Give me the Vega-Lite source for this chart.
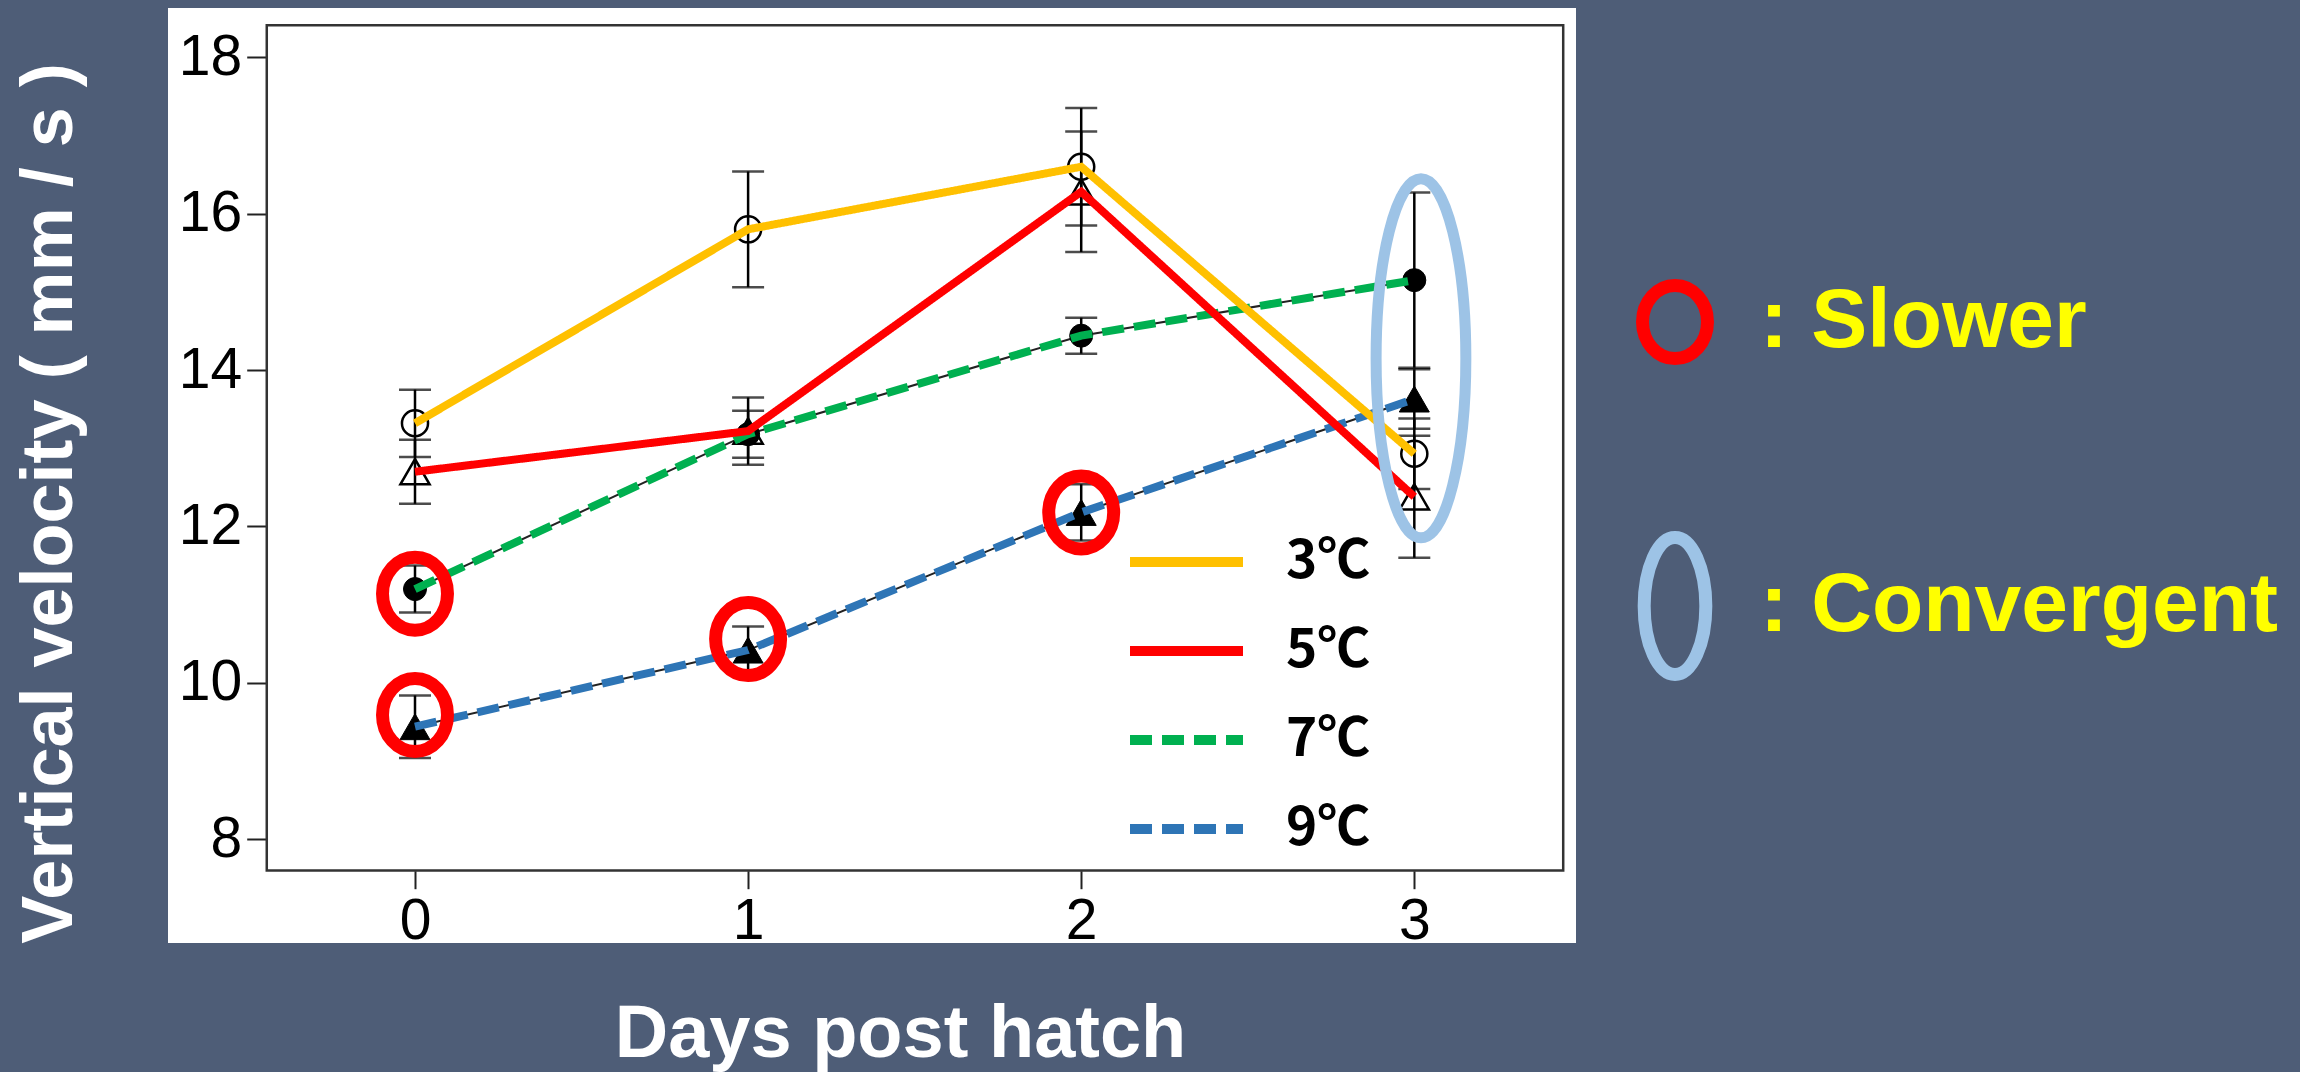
{
  "$schema": "https://vega.github.io/schema/vega-lite/v6.json",
  "width": 1408,
  "height": 935,
  "autosize": {"type": "none"},
  "padding": {"left": 168, "top": 8, "right": 724, "bottom": 129},
  "background": "#4E5D77",
  "view": {"fill": "white", "stroke": null},
  "config": {
    "axis": {"labelFont": "Liberation Sans", "titleFont": "Liberation Sans"},
    "legend": {"labelFont": "Liberation Sans"}
  },
  "datasets": {
    "series": [
      {"temp": "9℃", "day": 0, "v": 9.44, "err": 0.4},
      {"temp": "9℃", "day": 1, "v": 10.42, "err": 0.3},
      {"temp": "9℃", "day": 2, "v": 12.18, "err": 0.36},
      {"temp": "9℃", "day": 3, "v": 13.63, "err": 0.38},
      {"temp": "7℃", "day": 0, "v": 11.2, "err": 0.3},
      {"temp": "7℃", "day": 1, "v": 13.18, "err": 0.3},
      {"temp": "7℃", "day": 2, "v": 14.44, "err": 0.23},
      {"temp": "7℃", "day": 3, "v": 15.15, "err": 1.12},
      {"temp": "5℃", "day": 0, "v": 12.7, "err": 0.41},
      {"temp": "5℃", "day": 1, "v": 13.22, "err": 0.43},
      {"temp": "5℃", "day": 2, "v": 16.28, "err": 0.77},
      {"temp": "5℃", "day": 3, "v": 12.38, "err": 0.78},
      {"temp": "3℃", "day": 0, "v": 13.32, "err": 0.43},
      {"temp": "3℃", "day": 1, "v": 15.8, "err": 0.74},
      {"temp": "3℃", "day": 2, "v": 16.6, "err": 0.75},
      {"temp": "3℃", "day": 3, "v": 12.93, "err": 0.45}
    ],
    "marks": [
      {"type": "Slower", "day": 0, "v": 11.14},
      {"type": "Slower", "day": 0, "v": 9.59},
      {"type": "Slower", "day": 1, "v": 10.56},
      {"type": "Slower", "day": 2, "v": 12.18},
      {"type": "Convergent", "day": 3.02, "v": 14.15}
    ]
  },
  "layer": [
    {
      "data": {"values": [{"frame": "box"}]},
      "mark": {"type": "rect", "fill": "transparent", "stroke": "#333333", "strokeWidth": 2.5},
      "encoding": {
        "x": {
          "datum": -0.445, "type": "quantitative",
          "scale": {"domain": [-0.7415, 3.4854], "nice": false, "zero": false},
          "axis": {
            "values": [0, 1, 2, 3], "format": "d", "domain": false, "grid": false,
            "tickSize": 18, "tickWidth": 2, "tickColor": "#222222",
            "labelFontSize": 57, "labelColor": "black", "labelPadding": 5, "labelFlush": false, "labelOverlap": false,
            "offset": -72.3,
            "title": "Days post hatch", "titleFontSize": 74, "titleFontWeight": "bold", "titleColor": "white",
            "titleX": 732, "titleY": 186, "titleBaseline": "alphabetic", "titleAlign": "center"
          }
        },
        "x2": {"datum": 3.447},
        "y": {
          "datum": 7.6, "type": "quantitative",
          "scale": {"domain": [6.674, 18.63], "nice": false, "zero": false},
          "axis": {
            "values": [8, 10, 12, 14, 16, 18], "domain": false, "grid": false,
            "tickSize": 20, "tickWidth": 2, "tickColor": "#222222",
            "labelFontSize": 57, "labelColor": "black", "labelPadding": 5, "labelFlush": false, "labelOverlap": false,
            "offset": -98.7,
            "title": "Vertical velocity ( mm / s )", "titleFontSize": 72, "titleFontWeight": "bold", "titleColor": "white",
            "titleAngle": 270, "titleX": -195, "titleY": 495, "titleBaseline": "alphabetic", "titleAlign": "center"
          }
        },
        "y2": {"datum": 18.41}
      }
    },
    {
      "encoding": {
        "x": {
          "field": "day", "type": "quantitative",
          "scale": {"domain": [-0.7415, 3.4854], "nice": false, "zero": false},
          "axis": {
            "values": [0, 1, 2, 3], "format": "d", "domain": false, "grid": false,
            "tickSize": 18, "tickWidth": 2, "tickColor": "#222222",
            "labelFontSize": 57, "labelColor": "black", "labelPadding": 5, "labelFlush": false, "labelOverlap": false,
            "offset": -72.3,
            "title": "Days post hatch", "titleFontSize": 74, "titleFontWeight": "bold", "titleColor": "white",
            "titleX": 732, "titleY": 186, "titleBaseline": "alphabetic", "titleAlign": "center"
          }
        },
        "y": {
          "field": "v", "type": "quantitative",
          "scale": {"domain": [6.674, 18.63], "nice": false, "zero": false},
          "axis": {
            "values": [8, 10, 12, 14, 16, 18], "domain": false, "grid": false,
            "tickSize": 20, "tickWidth": 2, "tickColor": "#222222",
            "labelFontSize": 57, "labelColor": "black", "labelPadding": 5, "labelFlush": false, "labelOverlap": false,
            "offset": -98.7,
            "title": "Vertical velocity ( mm / s )", "titleFontSize": 72, "titleFontWeight": "bold", "titleColor": "white",
            "titleAngle": 270, "titleX": -195, "titleY": 495, "titleBaseline": "alphabetic", "titleAlign": "center"
          }
        }
      },
      "layer": [
        {
          "data": {"name": "series"},
          "mark": {
            "type": "errorbar",
            "ticks": {"size": 32, "color": "black", "thickness": 2.5},
            "rule": {"color": "black", "strokeWidth": 2.5}
          },
          "encoding": {"yError": {"field": "err"}}
        },
        {
          "data": {"name": "series"},
          "transform": [{"filter": "datum.temp === '7℃' || datum.temp === '9℃'"}],
          "mark": {"type": "line", "color": "#222222", "strokeWidth": 2},
          "encoding": {"detail": {"field": "temp", "type": "nominal"}}
        },
        {
          "data": {"name": "series"},
          "transform": [{"filter": "datum.temp === '3℃'"}],
          "mark": {"type": "point", "shape": "circle", "fill": "transparent", "stroke": "black", "strokeWidth": 2.5, "size": 680, "opacity": 1}
        },
        {
          "data": {"name": "series"},
          "transform": [{"filter": "datum.temp === '5℃'"}],
          "mark": {"type": "point", "shape": "triangle-up", "fill": "transparent", "stroke": "black", "strokeWidth": 2.5, "size": 850, "opacity": 1}
        },
        {
          "data": {"name": "series"},
          "transform": [{"filter": "datum.temp === '7℃'"}],
          "mark": {"type": "point", "shape": "circle", "fill": "black", "stroke": "black", "strokeWidth": 1, "size": 530, "opacity": 1}
        },
        {
          "data": {"name": "series"},
          "transform": [{"filter": "datum.temp === '9℃'"}],
          "mark": {"type": "point", "shape": "triangle-up", "fill": "black", "stroke": "black", "strokeWidth": 1, "size": 900, "opacity": 1}
        },
        {
          "data": {"name": "series"},
          "mark": {"type": "line", "strokeWidth": 8},
          "encoding": {
            "color": {
              "field": "temp", "type": "nominal",
              "scale": {"domain": ["3℃", "5℃", "7℃", "9℃"], "range": ["#FFC000", "#FF0000", "#00B050", "#2E75B6"]},
              "legend": {
                "orient": "none", "legendX": 957, "legendY": 492.5, "title": null,
                "symbolType": "stroke", "symbolSize": 12769, "symbolStrokeWidth": 10,
                "labelFont": "Noto Sans CJK KR", "labelFontSize": 53, "labelFontWeight": "bold",
                "labelColor": "black", "labelOffset": 38, "labelLimit": 0, "rowPadding": 0
              }
            },
            "strokeDash": {
              "field": "temp", "type": "nominal",
              "scale": {"domain": ["3℃", "5℃", "7℃", "9℃"], "range": [[1, 0], [1, 0], [22, 10], [22, 10]]},
              "legend": {
                "orient": "none", "legendX": 957, "legendY": 492.5, "title": null,
                "symbolType": "stroke", "symbolSize": 12769, "symbolStrokeWidth": 10,
                "labelFont": "Noto Sans CJK KR", "labelFontSize": 53, "labelFontWeight": "bold",
                "labelColor": "black", "labelOffset": 38, "labelLimit": 0, "rowPadding": 0
              }
            }
          }
        },
        {
          "data": {"name": "marks"},
          "transform": [{"filter": "datum.type === 'Slower'"}],
          "mark": {"type": "point", "strokeWidth": 13, "filled": false, "opacity": 1},
          "encoding": {
            "stroke": {
              "field": "type", "type": "nominal",
              "scale": {"domain": ["Slower", "Convergent"], "range": ["#FF0000", "#9DC3E6"]},
              "legend": {
                "orient": "none", "legendX": 1432, "legendY": 271, "title": null,
                "symbolStrokeWidth": 13,
                "labelFontSize": 84, "labelFontWeight": "bold", "labelColor": "#FFFF00",
                "labelOffset": 10, "labelLimit": 0, "rowPadding": 126,
                "labelExpr": "': ' + datum.label"
              }
            },
            "shape": {
              "field": "type", "type": "nominal",
              "scale": {"domain": ["Slower", "Convergent"], "range": ["M0,-1A0.89,1 0 1,1 0,1A0.89,1 0 1,1 0,-1Z", "M0,-1A0.45,1 0 1,1 0,1A0.45,1 0 1,1 0,-1Z"]}
            },
            "size": {
              "field": "type", "type": "ordinal",
              "scale": {"domain": ["Slower", "Convergent"], "range": [5329, 18769]}
            }
          }
        },
        {
          "data": {"name": "marks"},
          "transform": [{"filter": "datum.type === 'Convergent'"}],
          "mark": {"type": "point", "shape": "M0,-1A0.25,1 0 1,1 0,1A0.25,1 0 1,1 0,-1Z", "size": 128881, "strokeWidth": 11, "filled": false, "opacity": 1},
          "encoding": {
            "stroke": {"field": "type", "type": "nominal"}
          }
        }
      ]
    }
  ]
}
